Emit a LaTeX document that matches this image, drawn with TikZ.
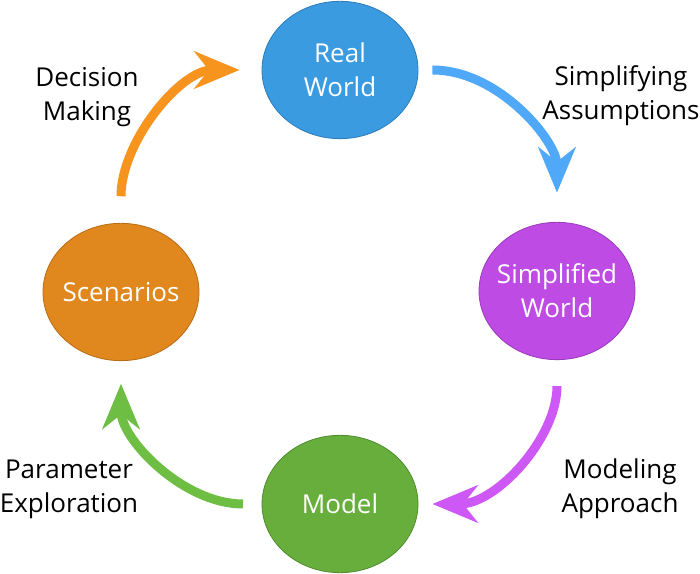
\documentclass[tikz,border=0pt]{standalone}
\usepackage{fontspec}
\setmainfont{Open Sans}
\usetikzlibrary{shapes.geometric, arrows.meta, positioning}
\definecolor{realfill}{HTML}{3A9BE0}
\definecolor{realline}{HTML}{2C7CBA}
\definecolor{realarrow}{HTML}{4FA8F8}
\definecolor{simplefill}{HTML}{BE4BE4}
\definecolor{simpleline}{HTML}{9A3ABB}
\definecolor{simplearrow}{HTML}{CE58F5}
\definecolor{modelfill}{HTML}{67AE3C}
\definecolor{modelline}{HTML}{4F8C2C}
\definecolor{modelarrow}{HTML}{6FBE44}
\definecolor{scenfill}{HTML}{E0871E}
\definecolor{scenline}{HTML}{B86C14}
\definecolor{scenarrow}{HTML}{F7941E}
\tikzset{
	stage/.style={
		ellipse, 
		minimum width=117pt, 
		minimum height=103pt, 
		text centered, 
		align=center,
		text=white,
		line width=0.6pt,
		inner xsep=-8pt,
		inner ysep=0pt,
		font=\fontsize{19.5}{25.5}\selectfont
	},
	note/.style={
		align=center,
		text=black,
		font=\fontsize{19.5}{25.5}\selectfont
	},
	flow/.style={line width=6.75pt,-{Stealth[length=34pt, width=28pt, inset=11pt]}}
}

\begin{document}
\begin{tikzpicture}[x=0.75pt, y=0.75pt]
				\useasboundingbox (0,0) rectangle (700,574);
				\node (real) [stage, fill=realfill, draw=realline] at (340,504) {Real\\World};
				\node (simple) [stage, fill=simplefill, draw=simpleline] at (557,283) {Simplified\\World};
				\node (model) [stage, fill=modelfill, draw=modelline] at (340,70) {Model};
				\node (scen) [stage, fill=scenfill, draw=scenline] at (121,282) {Scenarios};
				
				\node (assume) [note] at (621,478) {Simplifying\\Assumptions};
				\node (approach) [note] at (620,85) {Modeling\\Approach};
				\node (explore) [note] at (69,85) {Parameter\\Exploration};
				\node (decide) [note] at (87,477) {Decision\\Making};
				
				\draw [flow, realarrow, shorten <=10.5pt, shorten >=22pt] (real.east) to[out=0, in=90] (simple.north);
				\draw [flow, simplearrow, shorten <=19.5pt, shorten >=10.5pt] (simple.south) to[out=270, in=0] (model.east);
				\draw [flow, modelarrow, shorten <=14pt, shorten >=17pt] (model.west) to[out=180, in=270] (scen.south);
				\draw [flow, scenarrow, shorten <=20pt, shorten >=16.5pt] (scen.north) to[out=90, in=180] (real.west);
			\end{tikzpicture}
\end{document}
